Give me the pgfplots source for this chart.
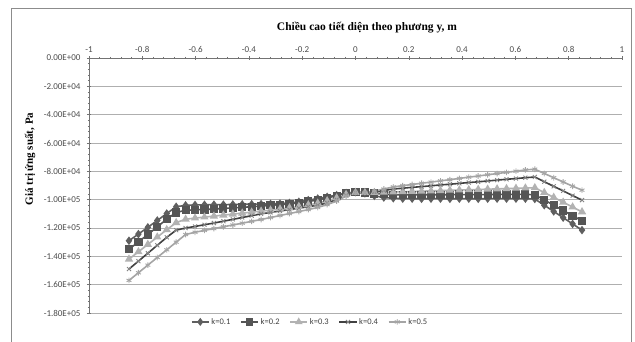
\documentclass[border=0pt]{standalone}
\usepackage{pgfplots}
\usepackage{pgfplotstable}
\pgfplotsset{compat=1.18}
\usepackage{fontspec}
\setmainfont{Liberation Serif}
\newfontfamily\carlito{Carlito}
\definecolor{cA}{RGB}{95,95,95}
\definecolor{cB}{RGB}{85,85,85}
\definecolor{cC}{RGB}{178,178,178}
\definecolor{cD}{RGB}{65,65,65}
\definecolor{cE}{RGB}{165,165,165}
\definecolor{gridc}{RGB}{175,175,175}
\pgfplotstableread{
x a b c d e
-0.85 -129000 -135000 -142000 -149000 -157000
-0.8146 -124300 -129800 -136800 -143400 -151600
-0.7792 -119500 -124600 -131600 -137800 -146200
-0.7438 -114700 -119200 -126400 -132200 -140800
-0.7083 -109800 -113800 -121200 -126600 -135400
-0.6729 -105000 -109000 -116200 -121500 -130000
-0.6375 -104000 -107500 -113800 -120000 -124600
-0.6021 -103700 -107200 -113000 -118900 -123000
-0.5667 -103600 -106900 -112300 -117700 -121700
-0.5313 -103500 -106600 -111600 -116500 -120400
-0.4958 -103500 -106200 -110900 -115200 -119100
-0.4604 -103400 -105800 -110200 -113900 -117900
-0.425 -103300 -105400 -109500 -112600 -116600
-0.3896 -103200 -105000 -108800 -111300 -115300
-0.3542 -103100 -104500 -108100 -110000 -114000
-0.3188 -103000 -104000 -107400 -109000 -112600
-0.2833 -102800 -103500 -106600 -108000 -111200
-0.2479 -102300 -103000 -105800 -107000 -109800
-0.2125 -101500 -102300 -104800 -106000 -108400
-0.1771 -100300 -101300 -103700 -105000 -107000
-0.1417 -99200 -100200 -102500 -103900 -105500
-0.1063 -98000 -98800 -100800 -102300 -103500
-0.0708 -96800 -97200 -98800 -100000 -101000
-0.0354 -95300 -95500 -96300 -97000 -97500
0 -94700 -94800 -95000 -95000 -95000
0.0354 -95500 -95000 -95000 -95000 -95000
0.0708 -97300 -95600 -95000 -94500 -94000
0.1063 -98500 -96200 -94800 -93500 -92500
0.1417 -99000 -96500 -94600 -92500 -91000
0.1771 -99300 -96500 -94400 -91900 -90100
0.2125 -99300 -96500 -94200 -91300 -89300
0.2479 -99400 -96500 -94000 -90800 -88400
0.2833 -99300 -96500 -93800 -90200 -87600
0.3188 -99300 -96500 -93600 -89600 -86700
0.3542 -99400 -96500 -93400 -89100 -85900
0.3896 -99300 -96400 -93200 -88500 -85000
0.425 -99300 -96400 -93000 -87900 -84100
0.4604 -99400 -96400 -92800 -87400 -83300
0.4958 -99300 -96400 -92600 -86800 -82400
0.5313 -99300 -96300 -92400 -86200 -81600
0.5667 -99300 -96300 -92200 -85600 -80700
0.6021 -99300 -96300 -92000 -85100 -79900
0.6375 -99300 -96300 -91800 -84500 -79000
0.6729 -99500 -96500 -91600 -84000 -78500
0.7083 -103900 -100200 -95000 -87300 -81500
0.7438 -108300 -103900 -98400 -90600 -84500
0.7792 -112700 -107600 -101800 -93800 -87500
0.8146 -117100 -111300 -105200 -97100 -90500
0.85 -121500 -115000 -108600 -100300 -93300
}\datatable
\begin{document}
\begin{tikzpicture}
\useasboundingbox (0,0) rectangle (635pt,341pt);
\fill[white] (0,0) rectangle (635pt,341pt);
\draw[black!45, line width=0.8pt] (11pt,-1pt) -- (11pt,333pt) -- (631pt,333pt) -- (631pt,-1pt);
\begin{axis}[
  at={(89pt,28pt)}, anchor=south west,
  width=533pt, height=255pt, scale only axis,
  xmin=-1, xmax=1, ymin=-180000, ymax=0,
  axis x line*=top, axis y line*=left,
  axis line style={black!55, line width=0.6pt},
  xtick={-1,-0.8,-0.6,-0.4,-0.2,0,0.2,0.4,0.6,0.8,1},
  xticklabels={-1,-0.8,-0.6,-0.4,-0.2,0,0.2,0.4,0.6,0.8,1},
  ytick={-180000,-160000,-140000,-120000,-100000,-80000,-60000,-40000,-20000,0},
  yticklabels={-1.80E+05,-1.60E+05,-1.40E+05,-1.20E+05,-1.00E+05,-8.00E+04,-6.00E+04,-4.00E+04,-2.00E+04,0.00E+00},
  scaled y ticks=false,
  minor x tick num=4, minor y tick num=4,
  tick align=center,
  major tick length=4pt, minor tick length=2.5pt,
  tick style={black!55, line width=0.5pt},
  ymajorgrids,
  major grid style={gridc, line width=0.9pt},
  ticklabel style={font=\carlito\fontsize{9}{10}\selectfont, text=black!70},
  xticklabel style={yshift=0pt},
  yticklabel style={xshift=-3pt},
  legend style={at={(0.415,-0.035)}, anchor=center, draw=none, fill=none,
    font=\carlito\fontsize{8.5}{10}\selectfont, text=black!75,
    legend columns=5,
    /tikz/every even column/.append style={column sep=8pt}},
  legend image post style={line width=1.3pt},
  every axis plot/.append style={line width=1.6pt},
]
\addplot[cA, mark=diamond*, mark size=3pt, mark options={solid}] table[x=x,y=a] {\datatable};
\addlegendentry{k=0.1}
\addplot[cB, mark=square*, mark size=3.3pt] table[x=x,y=b] {\datatable};
\addlegendentry{k=0.2}
\addplot[cC, mark=triangle*, mark size=3.2pt] table[x=x,y=c] {\datatable};
\addlegendentry{k=0.3}
\addplot[cD, mark=x, mark size=2.8pt, mark options={cE!80!black, line width=0.9pt}] table[x=x,y=d] {\datatable};
\addlegendentry{k=0.4}
\addplot[cE, mark=asterisk, mark size=2.8pt, mark options={line width=0.9pt}] table[x=x,y=e] {\datatable};
\addlegendentry{k=0.5}
\end{axis}
\node[font=\bfseries\fontsize{11.5}{13}\selectfont] at (367pt,313pt) {Chiều cao tiết diện theo phương y, m};
\node[font=\bfseries\fontsize{11}{13}\selectfont, rotate=90] at (30pt,182pt) {Giá trị ứng suất, Pa};
\end{tikzpicture}
\end{document}
